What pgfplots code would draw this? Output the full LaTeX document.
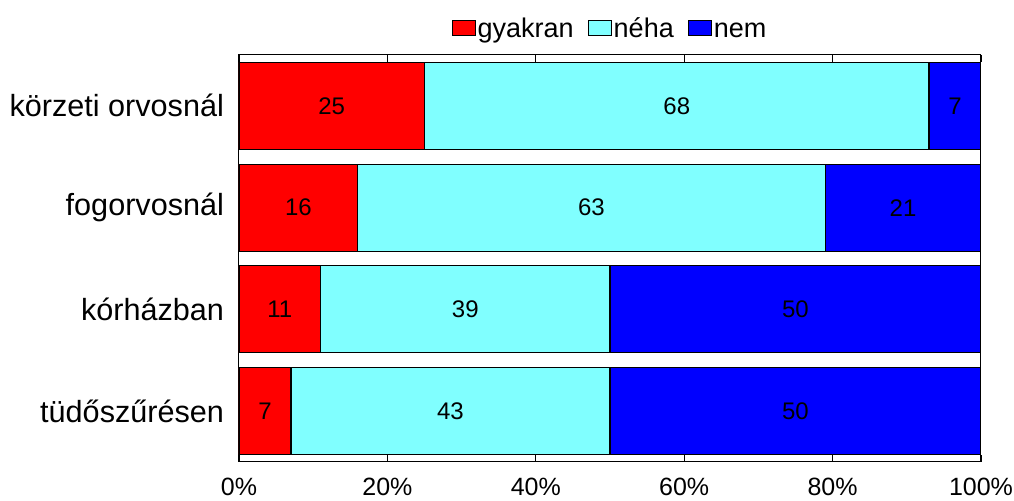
\documentclass[border=0pt]{standalone}
\usepackage{pgfplots}
\pgfplotsset{compat=1.18}
\usepackage{pgfplotstable}
\usepackage{fontspec}
\setmainfont{Liberation Sans}
\definecolor{cgy}{HTML}{FF0000}
\definecolor{cne}{HTML}{80FFFF}
\definecolor{cnem}{HTML}{0000FF}
\pgfplotstableread{
y gy ne nem
0 25 68 7
1 16 63 21
2 11 39 50
3 7 43 50
}\data
\begin{document}
\begin{tikzpicture}
\begin{axis}[
  scale only axis,
  width=371pt, height=203.5pt,
  xbar stacked,
  bar width=43.5pt,
  xmin=0, xmax=100,
  ymin=-0.5, ymax=3.5,
  y dir=reverse,
  ytick={0,1,2,3},
  yticklabels={körzeti orvosnál,fogorvosnál,kórházban,tüdőszűrésen},
  ytick style={draw=none},
  yticklabel style={font=\fontsize{15.3}{18}\selectfont, xshift=-4pt},
  xtick={0,20,40,60,80,100},
  xticklabels={0\%,20\%,40\%,60\%,80\%,100\%},
  xticklabel style={font=\fontsize{12.5}{15}\selectfont, yshift=-4.5pt},
  tick align=inside,
  major tick length=3.5pt,
  xtick pos=both,
  axis line style={line width=0.5pt},
  every tick/.style={black, line width=0.4pt},
  /pgf/number format/assume math mode=true,
  legend columns=3,
  legend style={at={(0.5,1)}, anchor=center, yshift=13.5pt, draw=none, fill=none,
    font=\fontsize{13.5}{16}\selectfont,
    /tikz/every even column/.append style={column sep=6pt},
    nodes={inner xsep=1pt}},
  legend image code/.code={\draw[#1, line width=0.5pt] (0pt,-3.75pt) rectangle (11.5pt,3.75pt);},
  nodes near coords,
  point meta=explicit,
  every node near coord/.append style={anchor=center, font=\fontsize{12}{14}\selectfont, black},
]
\addplot[fill=cgy, draw=black, line width=0.6pt] table[x=gy, y=y, meta=gy] {\data};
\addplot[fill=cne, draw=black, line width=0.6pt] table[x=ne, y=y, meta=ne] {\data};
\addplot[fill=cnem, draw=black, line width=0.6pt] table[x=nem, y=y, meta=nem] {\data};
\legend{\strut gyakran,\strut néha,\strut nem}
\coordinate (sw) at (rel axis cs:0,0);
\coordinate (ne) at (rel axis cs:1,1);
\end{axis}
\pgfresetboundingbox
\path (sw) ++(-119.5pt,-19.5pt);
\path (ne) ++(16.5pt,27.5pt);
\end{tikzpicture}
\end{document}
